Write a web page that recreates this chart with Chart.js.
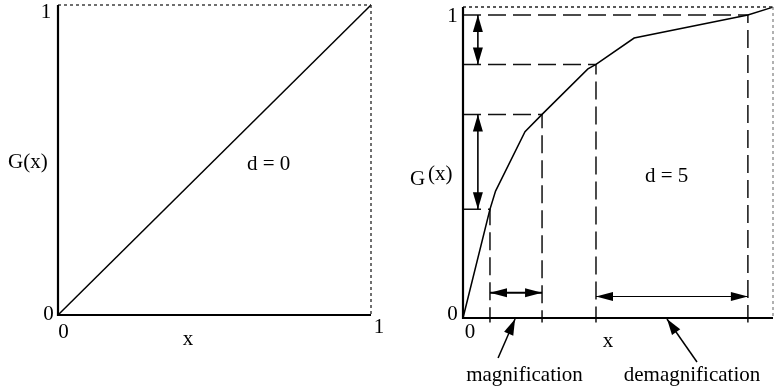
<!DOCTYPE html>
<html><head><meta charset="utf-8">
<script src="https://cdn.jsdelivr.net/npm/chart.js@4"></script>
<style>
html,body{margin:0;padding:0;background:#fff;width:775px;height:391px;overflow:hidden}
canvas{position:absolute;top:0}
#left{left:0}
#right{left:390px}
</style></head><body>
<canvas id="left" width="390" height="391"></canvas>
<canvas id="right" width="385" height="391"></canvas>
<script>
// d = 0: identity mapping
const identityX = [0, 1];
const identityG = [0, 1];

// d = 5: piecewise-linear distortion G(x)
const distortX = [0, 0.087, 0.105, 0.200, 0.255, 0.403, 0.429, 0.552, 0.919, 1.0];
const distortG = [0, 0.359, 0.419, 0.615, 0.672, 0.822, 0.837, 0.924, 1.0, 1.026];

// guide points on the curve: magnified interval, demagnified interval
const guideX = [0.087, 0.255, 0.429, 0.919];
const guideG = [0.359, 0.672, 0.837, 1.0];

// tick labels
const leftXTicks = ['0', '1'];
const leftYTicks = ['0', '1'];
const rightXTicks = ['0'];
const rightYTicks = ['0', '1'];

const xTitle = 'x';
const gTitle = ['G', '(x)'];
const leftNote = 'd = 0';
const rightNote = 'd = 5';
const magText = 'magnification';
const demagText = 'demagnification';

const FONT = '21px "Liberation Serif", "Times New Roman", serif';

function label(ctx, s, x, y, align) {
  ctx.font = FONT;
  ctx.fillStyle = '#000';
  ctx.textAlign = align || 'center';
  ctx.textBaseline = 'alphabetic';
  ctx.fillText(s, x, y);
}

function head(ctx, x, y, ang, len, hw) {
  const c = Math.cos(ang), s = Math.sin(ang);
  ctx.beginPath();
  ctx.moveTo(x, y);
  ctx.lineTo(x - len * c + hw * s, y - len * s - hw * c);
  ctx.lineTo(x - len * c - hw * s, y - len * s + hw * c);
  ctx.closePath();
  ctx.fill();
}

function arrow(ctx, x1, y1, x2, y2, both, lw, len, hw) {
  const ang = Math.atan2(y2 - y1, x2 - x1);
  ctx.lineWidth = lw;
  ctx.setLineDash([]);
  ctx.beginPath(); ctx.moveTo(x1, y1); ctx.lineTo(x2, y2); ctx.stroke();
  head(ctx, x2, y2, ang, len, hw);
  if (both) head(ctx, x1, y1, ang + Math.PI, len, hw);
}

function frame(ctx, a, rightColor) {
  ctx.save();
  ctx.strokeStyle = '#222';
  ctx.lineWidth = 1.3;
  ctx.setLineDash([3, 3]);
  ctx.beginPath(); ctx.moveTo(a.left, a.top); ctx.lineTo(a.right, a.top); ctx.stroke();
  ctx.strokeStyle = rightColor;
  ctx.beginPath(); ctx.moveTo(a.right, a.top); ctx.lineTo(a.right, a.bottom); ctx.stroke();
  ctx.setLineDash([]);
  ctx.strokeStyle = '#000';
  ctx.lineWidth = 2.2;
  ctx.beginPath();
  ctx.moveTo(a.left, a.top); ctx.lineTo(a.left, a.bottom); ctx.lineTo(a.right, a.bottom);
  ctx.stroke();
  ctx.restore();
}

const leftDecor = {
  id: 'leftDecor',
  afterDatasetsDraw(chart) {
    const ctx = chart.ctx, a = chart.chartArea;
    const sx = chart.scales.x, sy = chart.scales.y;
    frame(ctx, a, '#222');
    ctx.save();
    // y tick labels
    label(ctx, leftYTicks[0], a.left - 9.5, sy.getPixelForValue(0) + 5);
    label(ctx, leftYTicks[1], a.left - 12, sy.getPixelForValue(1) + 13);
    // x tick labels
    label(ctx, leftXTicks[0], sx.getPixelForValue(0) + 5.5, a.bottom + 23);
    label(ctx, leftXTicks[1], sx.getPixelForValue(1) + 8, a.bottom + 18);
    label(ctx, xTitle, a.left + 130, a.bottom + 30);
    label(ctx, gTitle.join(''), a.left - 50, a.top + 163, 'left');
    label(ctx, leftNote, a.left + 189, a.top + 165, 'left');
    ctx.restore();
  }
};

const rightDecor = {
  id: 'rightDecor',
  afterDatasetsDraw(chart) {
    const ctx = chart.ctx, a = chart.chartArea;
    const sx = chart.scales.x, sy = chart.scales.y;
    const px = v => sx.getPixelForValue(v), py = v => sy.getPixelForValue(v);
    frame(ctx, a, '#888');
    ctx.save();
    ctx.fillStyle = '#000';
    ctx.strokeStyle = '#000';
    // vertical double arrows on the G axis
    const ax = px(0.048);
    arrow(ctx, ax, py(guideG[3]), ax, py(guideG[2]), true, 1.6, 17, 5);
    arrow(ctx, ax, py(guideG[1]), ax, py(guideG[0]), true, 1.6, 17, 5);
    // horizontal double arrows under the intervals
    arrow(ctx, px(guideX[0]), py(0.0835), px(guideX[1]), py(0.0835), true, 2, 17, 4.5);
    arrow(ctx, px(guideX[2]), py(0.071), px(guideX[3]), py(0.071), true, 1.2, 17, 4.5);
    // pointers to the labels
    arrow(ctx, px(0.168) - 17, a.bottom + 40, px(0.168), a.bottom + 1, false, 1.5, 16, 5);
    arrow(ctx, px(0.658) + 30, a.bottom + 44, px(0.658), a.bottom + 1, false, 1.5, 16, 5);
    // ticks
    label(ctx, rightYTicks[0], a.left - 10.5, py(0) + 2);
    label(ctx, rightYTicks[1], a.left - 10.5, py(1) + 7);
    label(ctx, rightXTicks[0], px(0) + 7, a.bottom + 20);
    label(ctx, xTitle, a.left + 145, a.bottom + 29);
    label(ctx, gTitle[0], a.left - 53, a.top + 178, 'left');
    label(ctx, gTitle[1], a.left - 35, a.top + 173, 'left');
    label(ctx, rightNote, a.left + 182, a.top + 175, 'left');
    label(ctx, magText, a.left + 61.5, a.bottom + 63);
    label(ctx, demagText, a.left + 229, a.bottom + 63);
    ctx.restore();
  }
};

function baseOptions(padding, yMax) {
  return {
    responsive: false,
    animation: false,
    events: [],
    layout: { padding },
    plugins: { legend: { display: false }, tooltip: { enabled: false } },
    scales: {
      x: { type: 'linear', min: 0, max: 1, display: false },
      y: { type: 'linear', min: 0, max: yMax, display: false }
    }
  };
}

new Chart(document.getElementById('left'), {
  type: 'scatter',
  data: {
    datasets: [{
      data: identityX.map((x, i) => ({ x, y: identityG[i] })),
      showLine: true, borderColor: '#000', borderWidth: 1.5, pointRadius: 0, clip: false
    }]
  },
  options: baseOptions({ left: 58, right: 19, top: 5, bottom: 76 }, 1),
  plugins: [leftDecor]
});

const guideSets = guideX.map((gx, i) => ({
  data: [{ x: 0, y: guideG[i] }, { x: gx, y: guideG[i] }, { x: gx, y: -0.015 }],
  showLine: true, borderColor: '#111', borderWidth: 1.5, borderDash: [18, 7],
  pointRadius: 0, clip: false, order: 2
}));

new Chart(document.getElementById('right'), {
  type: 'scatter',
  data: {
    datasets: [{
      data: distortX.map((x, i) => ({ x, y: distortG[i] })),
      showLine: true, borderColor: '#000', borderWidth: 1.5, pointRadius: 0, clip: false, order: 1
    }, ...guideSets]
  },
  options: baseOptions({ left: 73, right: 2, top: 7, bottom: 73 }, 311 / 303),
  plugins: [rightDecor]
});
</script>
</body></html>
